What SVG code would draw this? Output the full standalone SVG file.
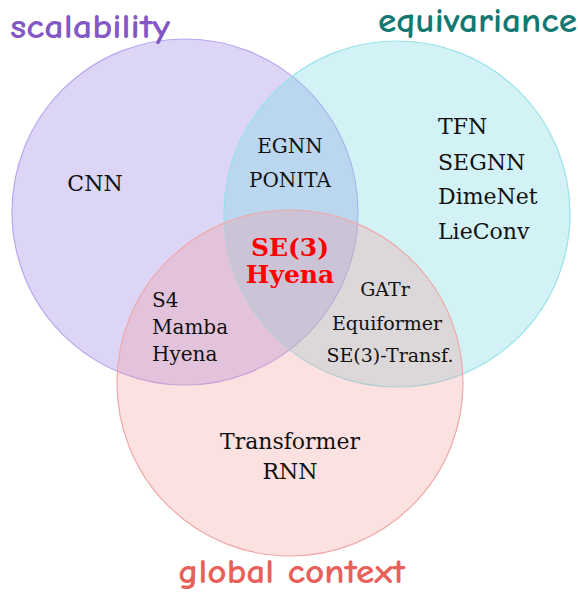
<svg xmlns="http://www.w3.org/2000/svg" width="578" height="592" viewBox="0 0 578 592">
<style>
.title{font-family:"Comic Sans MS","Comic Neue","Noto Sans","DejaVu Sans",sans-serif;font-size:34px;font-weight:bold}
.lbl{font-family:"DejaVu Serif","Liberation Serif",serif;fill:#111;text-anchor:middle}
.l{text-anchor:start}
.hi{font-family:"DejaVu Serif","Liberation Serif",serif;fill:#ff0000;font-weight:bold;font-size:25px;text-anchor:middle}
</style>
<rect width="578" height="592" fill="#ffffff"/>
<g id="circles">
<g id="scalability-set"><circle cx="185" cy="212" r="173" fill="#a796e8" fill-opacity="0.4" stroke="#b9a6f0" stroke-width="1.2"/></g>
<g id="equivariance-set"><circle cx="397" cy="214" r="173" fill="#7ddbe3" fill-opacity="0.35" stroke="#98e2ea" stroke-width="1.2"/></g>
<g id="global-set"><circle cx="290" cy="383" r="173" fill="#f59a9a" fill-opacity="0.3" stroke="#f0a8a8" stroke-width="1.2"/></g>
</g>
<g id="titles">
<text class="title" x="10" y="38" fill="#8457c6" textLength="160" lengthAdjust="spacingAndGlyphs">scalability</text>
<text class="title" x="378" y="32" fill="#137872" textLength="199" lengthAdjust="spacingAndGlyphs">equivariance</text>
<text class="title" x="178" y="583" fill="#e8605a" textLength="227" lengthAdjust="spacingAndGlyphs">global context</text>
</g>
<g id="cnn"><text class="lbl" x="95" y="191" font-size="22">CNN</text></g>
<g id="egnn"><text class="lbl" x="290" y="153" font-size="20">EGNN</text><text class="lbl" x="290" y="187" font-size="20">PONITA</text></g>
<g id="equi-only">
<text class="lbl l" x="438" y="134" font-size="22">TFN</text>
<text class="lbl l" x="438" y="170" font-size="22">SEGNN</text>
<text class="lbl l" x="438" y="204" font-size="22">DimeNet</text>
<text class="lbl l" x="438" y="239" font-size="22">LieConv</text>
</g>
<g id="se3hyena"><text class="hi" x="290" y="256">SE(3)</text><text class="hi" x="290" y="283">Hyena</text></g>
<g id="gatr">
<text class="lbl" x="385" y="296" font-size="19">GATr</text>
<text class="lbl" x="387" y="330" font-size="19">Equiformer</text>
<text class="lbl" x="390" y="362" font-size="19">SE(3)-Transf.</text>
</g>
<g id="ssm">
<text class="lbl l" x="152" y="307" font-size="20">S4</text>
<text class="lbl l" x="152" y="334" font-size="20">Mamba</text>
<text class="lbl l" x="152" y="361" font-size="20">Hyena</text>
</g>
<g id="transformer"><text class="lbl" x="290" y="449" font-size="22">Transformer</text><text class="lbl" x="290" y="479" font-size="22">RNN</text></g>
</svg>
